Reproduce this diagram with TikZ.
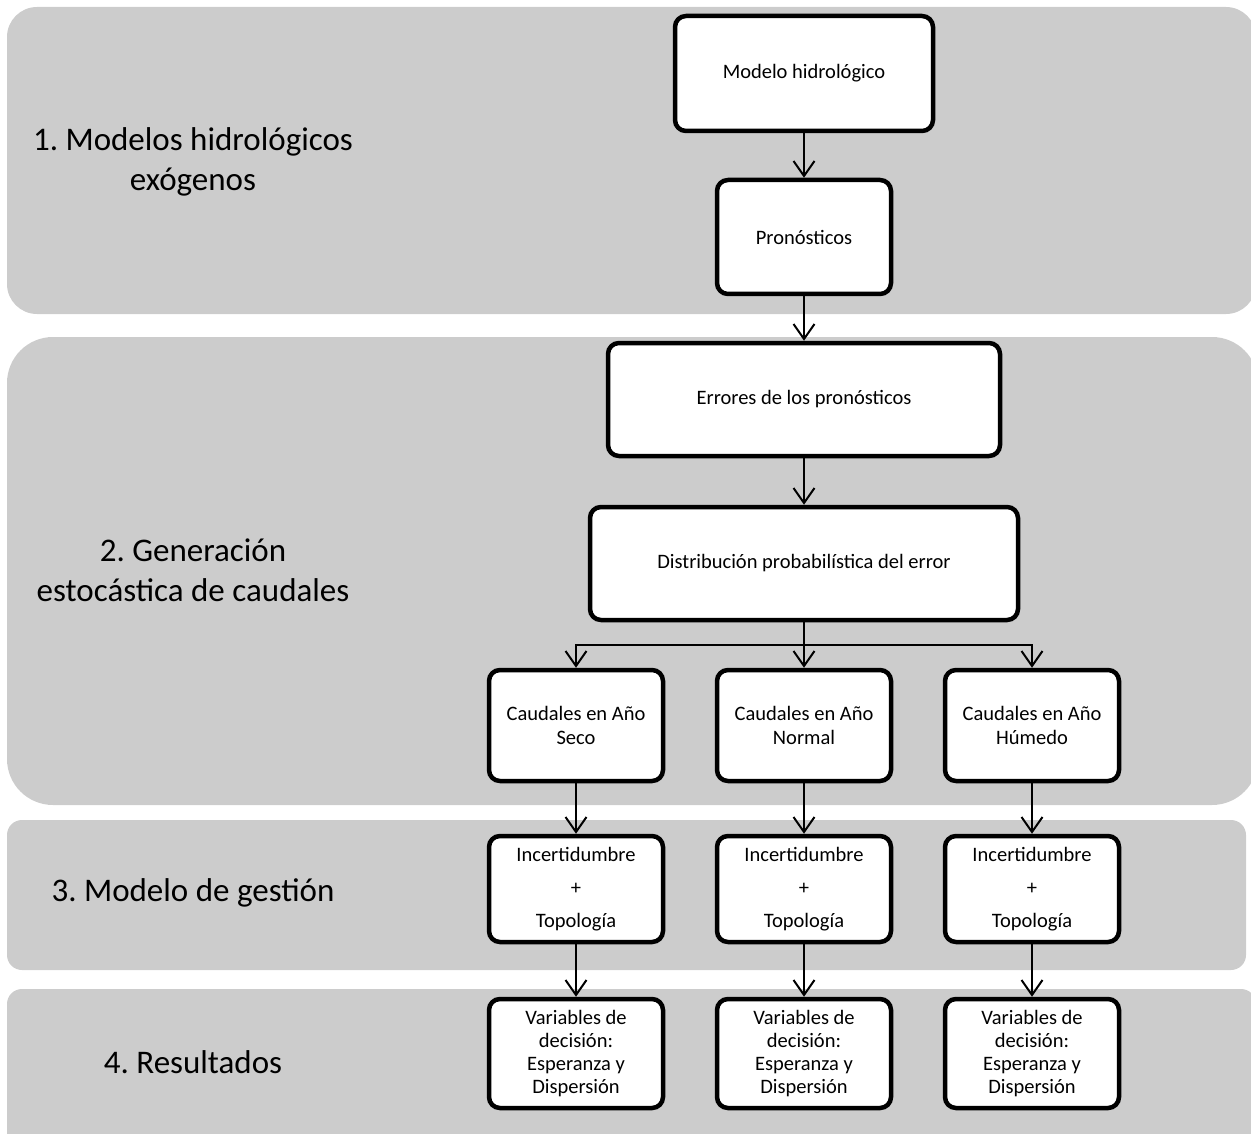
\documentclass[tikz,border=0pt]{standalone}
\usepackage{fontspec}
\setmainfont{Carlito}
\usetikzlibrary{arrows.meta}
\definecolor{bandgray}{HTML}{CCCCCC}
\frenchspacing
\tikzset{
  band/.style={fill=bandgray, draw=none},
  box/.style={draw=black, line width=4.5pt, fill=white, rounded corners=11pt,
    align=center, inner sep=2pt, font=\fontsize{20.5}{24.4}\selectfont},
  lbl/.style={align=center, font=\fontsize{33}{40}\selectfont, inner sep=0pt},
  arr/.style={line width=2pt, -{Straight Barb[length=15pt,width=21pt,line width=2pt]}},
  ln/.style={line width=2pt}
}
\begin{document}
\begin{tikzpicture}[x=1pt,y=-1pt]
\useasboundingbox (0,0) rectangle (1251,1134);
\clip (0,0) rectangle (1251,1134);
% bands
\fill[band, rounded corners=30pt] (7,7) rectangle (1256,314);
\fill[band, rounded corners=46pt] (7,337) rectangle (1258,805);
\fill[band, rounded corners=15pt] (7,820) rectangle (1246,970);
\fill[band, rounded corners=15pt] (7,989) rectangle (1256,1150);
% labels
\node[lbl] (l1) at (193,162) {1. Modelos hidrológicos\\exógenos};
\node[lbl] (l2) at (193,570) {2. Generación\\estocástica de caudales};
\node[lbl] (l3) at (193,893) {3. Modelo de gestión};
\node[lbl] (l4) at (193,1062) {4. Resultados};
% boxes
\node[box, minimum width=258pt, minimum height=115pt] (mh) at (804,73.5) {Modelo hidrológico};
\node[box, minimum width=174pt, minimum height=114pt] (pr) at (804,237) {Pronósticos};
\node[box, minimum width=392pt, minimum height=113pt] (er) at (804,399.5) {Errores de los pronósticos};
\node[box, minimum width=428pt, minimum height=113pt] (di) at (804,563.5) {Distribución probabilística del error};
\node[box, minimum width=174pt, minimum height=111pt] (c1) at (576,725.5) {Caudales en Año\\Seco};
\node[box, minimum width=174pt, minimum height=111pt] (c2) at (804,725.5) {Caudales en Año\\Normal};
\node[box, minimum width=174pt, minimum height=111pt] (c3) at (1032,725.5) {Caudales en Año\\Húmedo};
\node[box, minimum width=174pt, minimum height=106pt, font=\fontsize{20.5}{33}\selectfont] (i1) at (576,889) {Incertidumbre\\+\\Topología};
\node[box, minimum width=174pt, minimum height=106pt, font=\fontsize{20.5}{33}\selectfont] (i2) at (804,889) {Incertidumbre\\+\\Topología};
\node[box, minimum width=174pt, minimum height=106pt, font=\fontsize{20.5}{33}\selectfont] (i3) at (1032,889) {Incertidumbre\\+\\Topología};
\node[box, minimum width=174pt, minimum height=109pt, font=\fontsize{20.5}{23.3}\selectfont] (v1) at (576,1053.5) {Variables de\\decisión:\\Esperanza y\\Dispersión};
\node[box, minimum width=174pt, minimum height=109pt, font=\fontsize{20.5}{23.3}\selectfont] (v2) at (804,1053.5) {Variables de\\decisión:\\Esperanza y\\Dispersión};
\node[box, minimum width=174pt, minimum height=109pt, font=\fontsize{20.5}{23.3}\selectfont] (v3) at (1032,1053.5) {Variables de\\decisión:\\Esperanza y\\Dispersión};
% connectors
\draw[arr] (mh) -- (pr);
\draw[arr] (pr) -- (er);
\draw[arr] (er) -- (di);
\coordinate (bj) at (804,645);
\draw[ln] (di.south) -- (bj);
\draw[arr] (bj) -| (c1.north);
\draw[arr] (bj) -- (c2.north);
\draw[arr] (bj) -| (c3.north);
\draw[arr] (c1) -- (i1);
\draw[arr] (c2) -- (i2);
\draw[arr] (c3) -- (i3);
\draw[arr] (i1) -- (v1);
\draw[arr] (i2) -- (v2);
\draw[arr] (i3) -- (v3);
\end{tikzpicture}
\end{document}
